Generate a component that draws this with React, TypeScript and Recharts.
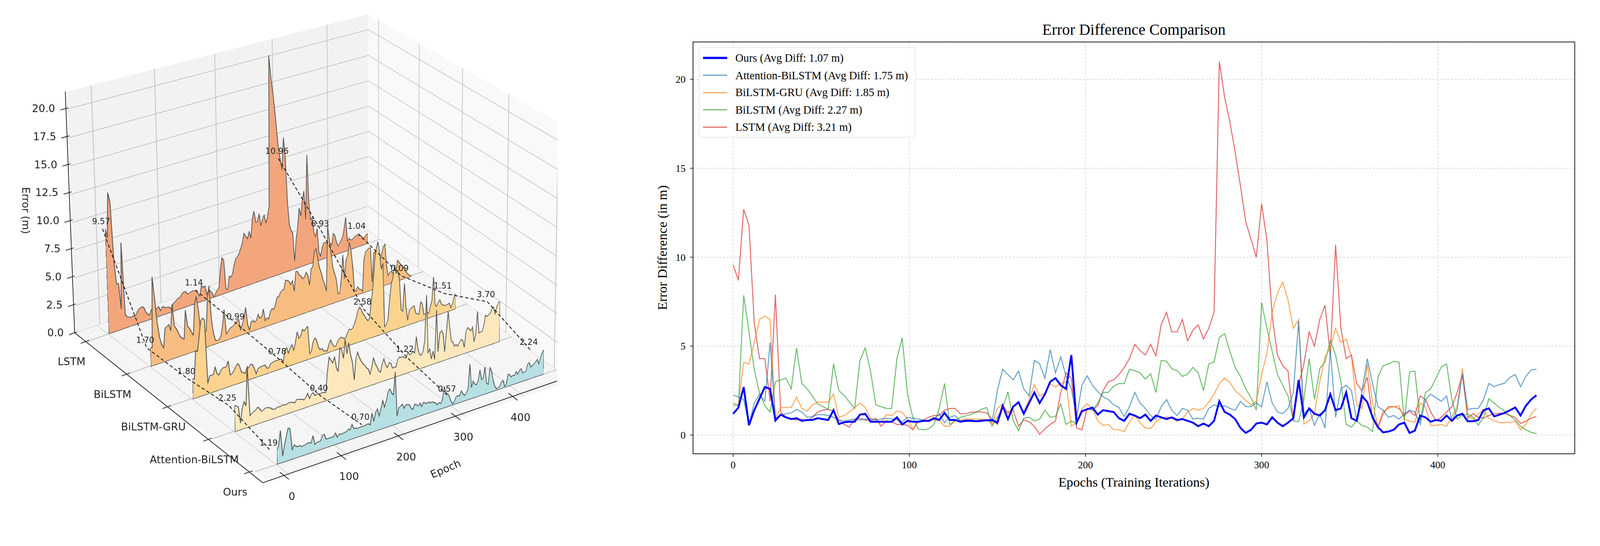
import React from 'react';
import { LineChart, Line, AreaChart, Area, ComposedChart, Scatter, XAxis, YAxis, CartesianGrid, ReferenceLine } from 'recharts';

// values read every 3 epochs (0, 3, ... 456)
const STEP = 3;

const lstm = [
  9.57, 8.7, 12.7, 11.8, 6.3, 4.3, 4.3, 1.9, 7.9, 1.3,
  1.0, 0.9, 0.85, 0.9, 0.8, 1.0, 1.3, 1.4, 1.45, 1.35,
  0.85, 0.6, 0.45, 0.9, 0.95, 0.85, 0.8, 0.95, 0.5, 0.8,
  0.75, 0.6, 0.6, 0.55, 0.3, 0.75, 0.85, 1.0, 1.1, 1.1,
  1.4, 1.5, 1.5, 1.2, 1.2, 1.28, 1.3, 1.3, 1.25, 0.9,
  0.6, 1.5, 1.3, 1.4, 0.5, 0.86, 0.75, 0.5, 0.05, 0.35,
  0.6, 0.8, 2.4, 3.5, 3.2, 0.4, 0.3, 1.5, 1.4, 1.65,
  2.5, 3.0, 3.1, 3.4, 3.8, 4.3, 5.1, 4.75, 4.5, 5.1,
  4.45, 6.2, 6.9, 5.8, 5.8, 6.5, 5.3, 5.9, 6.2, 5.4,
  6.0, 6.9, 21.0, 19.0, 17.6, 15.9, 14.0, 12.0, 11.0, 10.0,
  13.0, 10.96, 6.7, 4.5, 3.9, 3.6, 0.8, 2.8, 4.0, 5.8,
  5.0, 6.5, 7.3, 4.5, 10.7, 6.0, 4.3, 4.5, 2.9, 2.5,
  3.25, 0.9, 0.4, 1.2, 1.6, 1.6, 1.5, 1.1, 1.35, 1.1,
  2.2, 2.0, 1.3, 0.8, 1.0, 1.3, 1.6, 2.4, 3.4, 0.95,
  1.2, 1.0, 0.95, 1.1, 1.2, 1.23, 1.2, 1.1, 1.0, 0.66,
  0.78, 0.95, 1.04,
];

const bilstm = [
  1.70, 1.65, 7.86, 5.8, 3.7, 2.35, 1.65, 1.3, 3.0, 3.1,
  3.2, 2.6, 4.9, 2.9, 2.6, 2.2, 1.75, 1.6, 1.45, 4.0,
  2.5, 2.25, 1.85, 1.5, 4.2, 4.9, 3.6, 1.7, 1.6, 1.5,
  1.5, 4.3, 5.47, 2.3, 1.0, 0.35, 0.3, 0.35, 0.6, 1.5,
  2.9, 0.6, 0.8, 1.0, 1.08, 1.15, 1.3, 1.45, 1.55, 0.5,
  1.0, 1.5, 2.43, 0.8, 0.25, 0.95, 1.0, 0.8, 0.9, 1.4,
  1.0, 1.05, 1.75, 0.6, 0.8, 0.65, 1.3, 1.5, 1.4, 1.8,
  2.4, 2.4, 2.75, 2.9, 2.9, 3.7, 3.62, 3.5, 3.15, 3.45,
  2.4, 4.2, 4.15, 3.74, 3.62, 3.3, 3.42, 3.8, 3.5, 2.5,
  4.0, 4.1, 5.5, 5.7, 4.7, 3.8, 3.3, 2.6, 2.1, 1.4,
  7.45, 6.0, 4.7, 3.4, 2.8, 2.2, 0.8, 0.75, 2.0, 4.3,
  2.0, 3.74, 4.1, 5.3, 4.5, 3.0, 0.6, 0.45, 0.8, 0.53,
  0.45, 0.2, 3.25, 3.9, 4.0, 4.15, 4.1, 0.78, 3.55, 3.6,
  0.78, 2.4, 2.6, 3.2, 3.83, 4.0, 2.0, 0.9, 1.1, 1.2,
  1.0, 0.55, 1.0, 2.05, 1.8, 1.55, 1.35, 1.1, 0.85, 0.5,
  0.3, 0.15, 0.09,
];

const gru = [
  1.80, 1.7, 4.1, 4.0, 5.2, 6.5, 6.7, 6.5, 0.95, 1.55,
  1.55, 1.55, 2.14, 1.5, 1.35, 1.7, 1.85, 1.85, 1.85, 2.3,
  1.0, 1.1, 1.3, 1.55, 1.8, 1.55, 0.95, 0.85, 0.7, 1.15,
  1.1, 1.35, 1.28, 0.9, 0.35, 0.75, 0.8, 0.85, 0.85, 0.85,
  0.5, 0.5, 0.8, 0.85, 0.9, 0.9, 0.9, 0.9, 0.88, 0.6,
  1.5, 1.75, 1.2, 1.6, 1.85, 1.3, 2.0, 2.84, 2.2, 2.35,
  2.9, 2.7, 2.9, 3.0, 0.5, 0.7, 1.5, 1.75, 1.5, 0.8,
  0.55, 0.6, 0.3, 0.3, 0.2, 0.75, 1.1, 0.7, 0.4, 0.37,
  0.75, 0.95, 1.03, 0.95, 0.78, 0.9, 1.3, 1.5, 1.4, 1.5,
  1.85, 2.3, 2.9, 3.2, 2.95, 2.5, 2.25, 1.95, 1.7, 1.9,
  3.4, 4.6, 6.9, 8.0, 8.6, 7.6, 6.0, 6.5, 0.62, 0.8,
  1.2, 3.0, 4.4, 4.9, 6.0, 5.2, 5.4, 4.4, 1.7, 1.5,
  4.0, 1.8, 0.5, 1.35, 1.5, 1.6, 1.65, 0.9, 0.78, 0.72,
  1.8, 1.6, 0.53, 0.55, 0.6, 0.5, 1.05, 1.6, 3.75, 1.1,
  0.88, 1.2, 1.4, 0.95, 0.8, 0.7, 0.7, 0.72, 0.78, 0.3,
  0.6, 1.19, 1.51,
];

const attn = [
  2.25, 2.15, 2.0, 0.6, 1.8, 2.3, 1.9, 5.2, 0.95, 1.1,
  1.2, 1.25, 1.45, 1.3, 1.0, 1.05, 1.15, 1.15, 1.1, 1.0,
  0.85, 0.8, 0.85, 0.9, 0.85, 0.9, 0.9, 0.85, 0.9, 0.95,
  0.9, 0.85, 0.75, 1.0, 0.95, 0.9, 0.85, 0.75, 0.9, 1.2,
  0.7, 1.0, 1.1, 0.8, 0.85, 0.85, 0.8, 0.85, 0.8, 0.75,
  2.5, 3.7, 3.4, 3.1, 3.6, 2.6, 2.2, 4.2, 4.0, 3.2,
  4.8, 3.5, 4.4, 3.3, 2.6, 1.0, 2.8, 3.33, 2.8, 2.45,
  2.15, 2.0, 1.7, 1.55, 1.05, 1.6, 2.4, 1.8, 1.5, 1.1,
  0.9, 1.6, 2.0, 1.4, 1.1, 1.5, 1.4, 0.9, 0.95, 0.9,
  1.5, 1.7, 1.6, 1.65, 1.5, 1.4, 1.9, 1.6, 1.6, 1.8,
  1.6, 3.0, 1.8, 1.3, 1.2, 1.5, 2.4, 6.4, 1.2, 1.5,
  0.55, 1.2, 0.4, 4.8, 1.0, 2.6, 2.8, 2.5, 0.8, 2.5,
  4.3, 2.9, 1.6, 1.4, 1.0, 1.1, 0.9, 1.2, 1.4, 1.3,
  0.6, 2.0, 2.3, 2.1, 1.9, 2.2, 0.8, 1.44, 3.45, 1.44,
  1.5, 1.5, 2.0, 2.9, 2.72, 2.84, 2.92, 3.25, 3.4, 2.72,
  3.3, 3.66, 3.70,
];

const ours = [
  1.19, 1.55, 2.7, 0.55, 1.4, 2.05, 2.7, 2.6, 0.82, 1.15,
  1.0, 0.9, 0.95, 0.8, 0.85, 0.85, 0.95, 0.9, 0.85, 1.4,
  0.62, 0.72, 0.75, 0.75, 1.15, 1.2, 0.75, 0.75, 0.75, 0.75,
  0.75, 1.0, 0.6, 0.8, 0.75, 0.75, 0.8, 0.8, 0.95, 0.85,
  1.25, 0.85, 0.85, 0.75, 0.8, 0.8, 0.78, 0.8, 0.83, 0.85,
  0.7, 1.65, 0.9, 1.6, 1.85, 1.2, 1.8, 2.4, 1.8, 2.3,
  3.0, 3.2, 2.8, 2.6, 4.5, 0.7, 1.35, 1.45, 1.55, 1.15,
  1.4, 1.35, 1.3, 0.95, 0.8, 1.2, 1.1, 0.95, 1.15, 0.8,
  1.1, 1.0, 0.9, 1.0, 0.85, 0.9, 0.8, 0.7, 0.5, 0.65,
  0.5, 0.8, 1.9, 1.3, 1.15, 0.9, 0.4, 0.12, 0.3, 0.65,
  0.7, 0.6, 1.0, 0.7, 0.5, 0.7, 0.95, 3.1, 1.0, 1.5,
  1.2, 1.1, 1.4, 2.3, 1.4, 1.5, 2.4, 0.95, 0.8, 2.2,
  1.85, 1.0, 0.45, 0.15, 0.2, 0.3, 0.6, 0.7, 0.12, 0.25,
  1.1, 1.0, 0.75, 0.85, 0.8, 1.1, 0.8, 1.1, 1.2, 0.78,
  0.78, 0.85, 1.4, 1.5, 1.05, 1.15, 1.25, 1.4, 1.55, 1.1,
  1.65, 2.0, 2.24,
];

const models = ['LSTM', 'BiLSTM', 'BiLSTM-GRU', 'Attention-BiLSTM', 'Ours'];
const modelKeys = ['lstm', 'bilstm', 'gru', 'attn', 'ours'];
const avgDiff = ['3.21', '2.27', '1.85', '1.75', '1.07'];
const lineColors = ['#d62728', '#2ca02c', '#ff7f0e', '#1f77b4', '#0000ff'];
const stripFills = ['#f3a67c', '#f7bd80', '#fbd38f', '#fde8bd', '#b7e0e3'];
const legendOrder = [4, 3, 2, 1, 0];

// annotated values in the 3D view (per model, at the epochs below)
const annoEpochs = [0, 151, 303, 455];
const annoValues = [
  [9.57, 1.14, 10.96, 1.04],
  [1.70, 0.99, 6.93, 0.09],
  [1.80, 0.78, 2.58, 1.51],
  [2.25, 0.40, 1.22, 3.70],
  [1.19, 0.70, 0.57, 2.24],
];

const epochTicks = [0, 100, 200, 300, 400];
const errorTicks = [0, 2.5, 5, 7.5, 10, 12.5, 15, 17.5, 20];
const diffTicks = [0, 5, 10, 15, 20];

const epochs = ours.map((_, i) => i * STEP);
const LAST = epochs[epochs.length - 1];
const rows = epochs.map((epoch, i) => ({
  epoch, lstm: lstm[i], bilstm: bilstm[i], gru: gru[i], attn: attn[i], ours: ours[i],
}));

const SERIF = '"Liberation Serif", "Times New Roman", serif';
const SANS = '"DejaVu Sans", sans-serif';

// ---------- 3D view helpers ----------
const EMIN = -37, EMAX = 478, MBACK = -0.27, MFRONT = 4.33, ZMAX = 21.5, ZSTRIP = 22;
const FLOOR = { bl: [206, 896], br: [991, 621], fr: [1537, 1026], fl: [725, 1300] };

type Pt = [number, number];

function proj(e: number, m: number, z: number): Pt {
  const u = (e - EMIN) / (EMAX - EMIN);
  const v = (m - MBACK) / (MFRONT - MBACK);
  const bx = (1 - v) * ((1 - u) * FLOOR.bl[0] + u * FLOOR.br[0]) + v * ((1 - u) * FLOOR.fl[0] + u * FLOOR.fr[0]);
  const by = (1 - v) * ((1 - u) * FLOOR.bl[1] + u * FLOOR.br[1]) + v * ((1 - u) * FLOOR.fl[1] + u * FLOOR.fr[1]);
  const s = 30.2 - 3.1 * u + 4 * v;
  const lean = -1.2 * (1 - u) + 0.6 * v;
  return [bx + lean * z, by - s * z];
}

function homography(p0: Pt, p1: Pt, p2: Pt, p3: Pt) {
  const [x0, y0] = p0, [x1, y1] = p1, [x2, y2] = p2, [x3, y3] = p3;
  const sx = x0 - x1 + x2 - x3, sy = y0 - y1 + y2 - y3;
  let g = 0, k = 0;
  if (Math.abs(sx) > 1e-9 || Math.abs(sy) > 1e-9) {
    const dx1 = x1 - x2, dx2 = x3 - x2, dy1 = y1 - y2, dy2 = y3 - y2;
    const det = dx1 * dy2 - dx2 * dy1;
    g = (sx * dy2 - dx2 * sy) / det;
    k = (dx1 * sy - sx * dy1) / det;
  }
  return { a: x1 - x0 + g * x1, b: x3 - x0 + k * x3, c: x0, d: y1 - y0 + g * y1, e: y3 - y0 + k * y3, f: y0, g, k };
}

function applyH(h: any, u: number, v: number): Pt {
  const w = h.g * u + h.k * v + 1;
  return [(h.a * u + h.b * v + h.c) / w, (h.d * u + h.e * v + h.f) / w];
}

function cssMatrix(h: any, w: number, ht: number) {
  return `matrix3d(${h.a / w},${h.d / w},0,${h.g / w},${h.b / ht},${h.e / ht},0,${h.k / ht},0,0,1,0,${h.c},${h.f},0,1)`;
}

const stripH = models.map((_, m) =>
  homography(proj(0, m, ZSTRIP), proj(LAST, m, ZSTRIP), proj(LAST, m, 0), proj(0, m, 0))
);
const stripPoint = (m: number, e: number, z: number) => applyH(stripH[m], e / LAST, 1 - z / ZSTRIP);

const NO_MARGIN = { top: 0, right: 0, bottom: 0, left: 0 };

const Pane = ({ quad, w, h, xDomain, yDomain, xLines, yLines, fill, reversed }: any) => {
  const hm = homography(quad[0], quad[1], quad[2], quad[3]);
  const corners = [{ x: xDomain[0], y: yDomain[0] }, { x: xDomain[1], y: yDomain[1] }];
  return (
    <div style={{ position: 'absolute', left: 0, top: 0, width: w, height: h, transformOrigin: '0 0', transform: cssMatrix(hm, w, h), background: fill }}>
      <LineChart width={w} height={h} margin={NO_MARGIN} data={corners}>
        <XAxis type="number" dataKey="x" domain={xDomain} hide />
        <YAxis type="number" domain={yDomain} hide reversed={reversed} />
        {xLines.map((v: number) => <ReferenceLine key={'x' + v} x={v} stroke="#c2c2c2" strokeWidth={2} />)}
        {yLines.map((v: number) => <ReferenceLine key={'y' + v} y={v} stroke="#c2c2c2" strokeWidth={2} />)}
        <Line dataKey="y" stroke="none" dot={false} isAnimationActive={false} />
      </LineChart>
    </div>
  );
};

const SW = 720, SH = 640;

const Strip = ({ m }: { m: number }) => {
  const key = modelKeys[m];
  const first = rows[0][key];
  const last = rows[rows.length - 1][key];
  return (
    <div style={{ position: 'absolute', left: 0, top: 0, width: SW, height: SH, transformOrigin: '0 0', transform: cssMatrix(stripH[m], SW, SH) }}>
      <AreaChart width={SW} height={SH} data={rows} margin={NO_MARGIN}>
        <XAxis type="number" dataKey="epoch" domain={[0, LAST]} hide />
        <YAxis type="number" domain={[0, ZSTRIP]} hide />
        <Area type="linear" dataKey={key} fill={stripFills[m]} fillOpacity={1} stroke="#505050" strokeWidth={2} isAnimationActive={false} />
        <ReferenceLine y={0} stroke="#505050" strokeWidth={3} />
        <ReferenceLine segment={[{ x: 0, y: 0 }, { x: 0, y: first }]} stroke="#505050" strokeWidth={2} />
        <ReferenceLine segment={[{ x: LAST, y: 0 }, { x: LAST, y: last }]} stroke="#505050" strokeWidth={2} />
      </AreaChart>
    </div>
  );
};

const seg = (p: Pt, q: Pt) => [{ x: p[0], y: p[1] }, { x: q[0], y: q[1] }];

const TextShape = (props: any) => {
  const { cx, cy, payload } = props;
  return (
    <text x={cx} y={cy} textAnchor={payload.anchor || 'middle'} dominantBaseline="central"
      fontSize={payload.size} fill="#222" fontFamily={SANS}>
      {payload.text}
    </text>
  );
};

const ThreeDView = () => {
  const axisLines = [
    seg(proj(EMIN, MBACK, 0), proj(EMIN, MBACK, ZMAX)),
    seg(proj(EMIN, MBACK, 0), proj(EMIN, MFRONT, 0)),
    seg(proj(EMIN, MFRONT, 0), proj(EMAX, MFRONT, 0)),
  ];
  const tickLines = [
    ...errorTicks.map((z) => seg(proj(EMIN - 10, MBACK, z), proj(EMIN + 4, MBACK, z))),
    ...models.map((_, m) => seg(proj(EMIN - 9, m, 0), proj(EMIN + 6, m, 0))),
    ...epochTicks.map((e) => seg(proj(e, MFRONT - 0.1, 0), proj(e, MFRONT + 0.12, 0))),
  ];
  const connectors = annoEpochs.map((e, g) =>
    models.map((_, m) => {
      const p = stripPoint(m, e, annoValues[m][g]);
      return { x: p[0], y: p[1] };
    })
  );
  const labels: any[] = [];
  errorTicks.forEach((z) => {
    const p = proj(EMIN, MBACK, z);
    labels.push({ x: p[0] - 30, y: p[1], text: z.toFixed(1), anchor: 'end', size: 28 });
  });
  models.forEach((name, m) => {
    const p = proj(EMIN, m, 0);
    labels.push({ x: p[0] - 39, y: p[1] + 54, text: name, size: 28 });
  });
  epochTicks.forEach((e) => {
    const p = proj(e, MFRONT, 0);
    labels.push({ x: p[0] + 22, y: p[1] + 56, text: String(e), size: 28 });
  });
  annoEpochs.forEach((e, g) => {
    models.forEach((_, m) => {
      const p = stripPoint(m, e, annoValues[m][g]);
      labels.push({ x: p[0] - 4, y: p[1] - 20, text: annoValues[m][g].toFixed(2), size: 22 });
    });
  });

  return (
    <div style={{ position: 'absolute', left: 0, top: 0, width: 1500, height: 1398, overflow: 'hidden' }}>
      <Pane w={1100} h={480} fill="#f5f5f5" reversed
        quad={[proj(EMIN, MBACK, 0), proj(EMAX, MBACK, 0), proj(EMAX, MFRONT, 0), proj(EMIN, MFRONT, 0)]}
        xDomain={[EMIN, EMAX]} yDomain={[MBACK, MFRONT]} xLines={epochTicks} yLines={[0, 1, 2, 3, 4]} />
      <Pane w={800} h={650} fill="#f2f2f2"
        quad={[proj(EMIN, MBACK, ZMAX), proj(EMAX, MBACK, ZMAX), proj(EMAX, MBACK, 0), proj(EMIN, MBACK, 0)]}
        xDomain={[EMIN, EMAX]} yDomain={[0, ZMAX]} xLines={epochTicks} yLines={errorTicks} />
      <Pane w={600} h={650} fill="#f9f9f9"
        quad={[proj(EMAX, MBACK, ZMAX), proj(EMAX, MFRONT, ZMAX), proj(EMAX, MFRONT, 0), proj(EMAX, MBACK, 0)]}
        xDomain={[MBACK, MFRONT]} yDomain={[0, ZMAX]} xLines={[0, 1, 2, 3, 4]} yLines={errorTicks} />
      {models.map((_, m) => <Strip key={m} m={m} />)}
      <div style={{ position: 'absolute', left: 0, top: 0 }}>
        <ComposedChart width={1500} height={1398} margin={NO_MARGIN}>
          <XAxis type="number" dataKey="x" domain={[0, 1500]} hide />
          <YAxis type="number" dataKey="y" domain={[0, 1398]} reversed hide />
          {axisLines.map((d, i) => (
            <Line key={'ax' + i} data={d} dataKey="y" stroke="#222" strokeWidth={2} dot={false} isAnimationActive={false} />
          ))}
          {tickLines.map((d, i) => (
            <Line key={'tk' + i} data={d} dataKey="y" stroke="#222" strokeWidth={2} dot={false} isAnimationActive={false} />
          ))}
          {connectors.map((d, i) => (
            <Line key={'cn' + i} data={d} dataKey="y" stroke="#111" strokeWidth={2.2} strokeDasharray="9 6" dot={false} isAnimationActive={false} />
          ))}
          <Scatter data={labels} dataKey="y" shape={TextShape} isAnimationActive={false} />
        </ComposedChart>
      </div>
      <div style={{ position: 'absolute', left: 69 - 150, top: 567 - 20, width: 300, height: 40, lineHeight: '40px', textAlign: 'center', fontFamily: SANS, fontSize: 28, color: '#222', transform: 'rotate(90deg)' }}>
        Error (m)
      </div>
      <div style={{ position: 'absolute', left: 1200 - 100, top: 1263 - 20, width: 200, height: 40, lineHeight: '40px', textAlign: 'center', fontFamily: SANS, fontSize: 28, color: '#222', transform: 'rotate(-23deg)' }}>
        Epoch
      </div>
    </div>
  );
};

// ---------- 2D comparison chart ----------
const RX = 1790, RW = 2518;

const Comparison = () => (
  <>
    <div style={{ position: 'absolute', left: RX, top: 0 }}>
      <LineChart width={RW} height={1398} data={rows} margin={{ top: 113, right: 68, bottom: 116, left: 16 }}>
        <CartesianGrid stroke="#cfcfcf" strokeDasharray="6 4" strokeWidth={1.6} />
        <XAxis type="number" dataKey="epoch" domain={[-22.75, 477.75]} ticks={epochTicks} allowDataOverflow
          axisLine={false} tickLine={{ stroke: '#000', strokeWidth: 1.6 }} tickSize={8} tickMargin={12} height={60}
          tick={{ fontSize: 27, fill: '#000', fontFamily: SERIF }} />
        <YAxis type="number" domain={[-1.05, 22.1]} ticks={diffTicks} allowDataOverflow width={60}
          axisLine={false} tickLine={{ stroke: '#000', strokeWidth: 1.6 }} tickSize={8} tickMargin={12}
          tick={{ fontSize: 27, fill: '#000', fontFamily: SERIF }} />
        {[0, 1, 2, 3].map((m) => (
          <Line key={m} type="linear" dataKey={modelKeys[m]} stroke={lineColors[m]} strokeOpacity={0.7}
            strokeWidth={2.6} dot={false} isAnimationActive={false} />
        ))}
        <Line type="linear" dataKey="ours" stroke={lineColors[4]} strokeWidth={5} dot={false} isAnimationActive={false} />
      </LineChart>
    </div>
    <div style={{ position: 'absolute', left: 1865, top: 112, width: 2376, height: 1111, border: '2px solid #111', boxSizing: 'border-box', pointerEvents: 'none' }} />
    <div style={{ position: 'absolute', left: 1866, top: 56, width: 2374, height: 48, lineHeight: '48px', textAlign: 'center', fontFamily: SERIF, fontSize: 42, color: '#000' }}>
      Error Difference Comparison
    </div>
    <div style={{ position: 'absolute', left: 1866, top: 1277, width: 2374, height: 42, lineHeight: '42px', textAlign: 'center', fontFamily: SERIF, fontSize: 36, color: '#000' }}>
      Epochs (Training Iterations)
    </div>
    <div style={{ position: 'absolute', left: 1783 - 300, top: 667 - 22, width: 600, height: 44, lineHeight: '44px', textAlign: 'center', fontFamily: SERIF, fontSize: 36, color: '#000', transform: 'rotate(-90deg)' }}>
      Error Difference (in m)
    </div>
    <div style={{ position: 'absolute', left: 1882, top: 127, width: 583, height: 243, border: '1.5px solid #d6d6d6', borderRadius: 6, background: 'rgba(255,255,255,0.85)', boxSizing: 'border-box' }}>
      {legendOrder.map((m, i) => (
        <div key={m} style={{ position: 'absolute', left: 0, top: 28 + 46.5 * i - 20, height: 40, width: 583 }}>
          <div style={{ position: 'absolute', left: 10, top: 20 - (m === 4 ? 3 : 1.5), width: 65, height: m === 4 ? 6 : 3, background: lineColors[m], opacity: m === 4 ? 1 : 0.7 }} />
          <div style={{ position: 'absolute', left: 97, top: 0, height: 40, lineHeight: '40px', whiteSpace: 'nowrap', fontFamily: SERIF, fontSize: 30, color: '#000' }}>
            {models[m]} (Avg Diff: {avgDiff[m]} m)
          </div>
        </div>
      ))}
    </div>
  </>
);

const PAGE_W = 4308, PAGE_H = 1398;

export default function App() {
  // fit the fixed 4308x1398 layout into the actual viewport width
  const vw = typeof window !== 'undefined' && window.innerWidth ? window.innerWidth : PAGE_W;
  const scale = vw / PAGE_W;
  return (
    <>
      <style>{'html,body{margin:0;padding:0;overflow:hidden;background:#fff}'}</style>
      <div style={{ position: 'absolute', left: 0, top: 0, width: PAGE_W, height: PAGE_H, background: '#fff', overflow: 'hidden', transformOrigin: '0 0', transform: `scale(${scale})` }}>
        <ThreeDView />
        <Comparison />
      </div>
    </>
  );
}
